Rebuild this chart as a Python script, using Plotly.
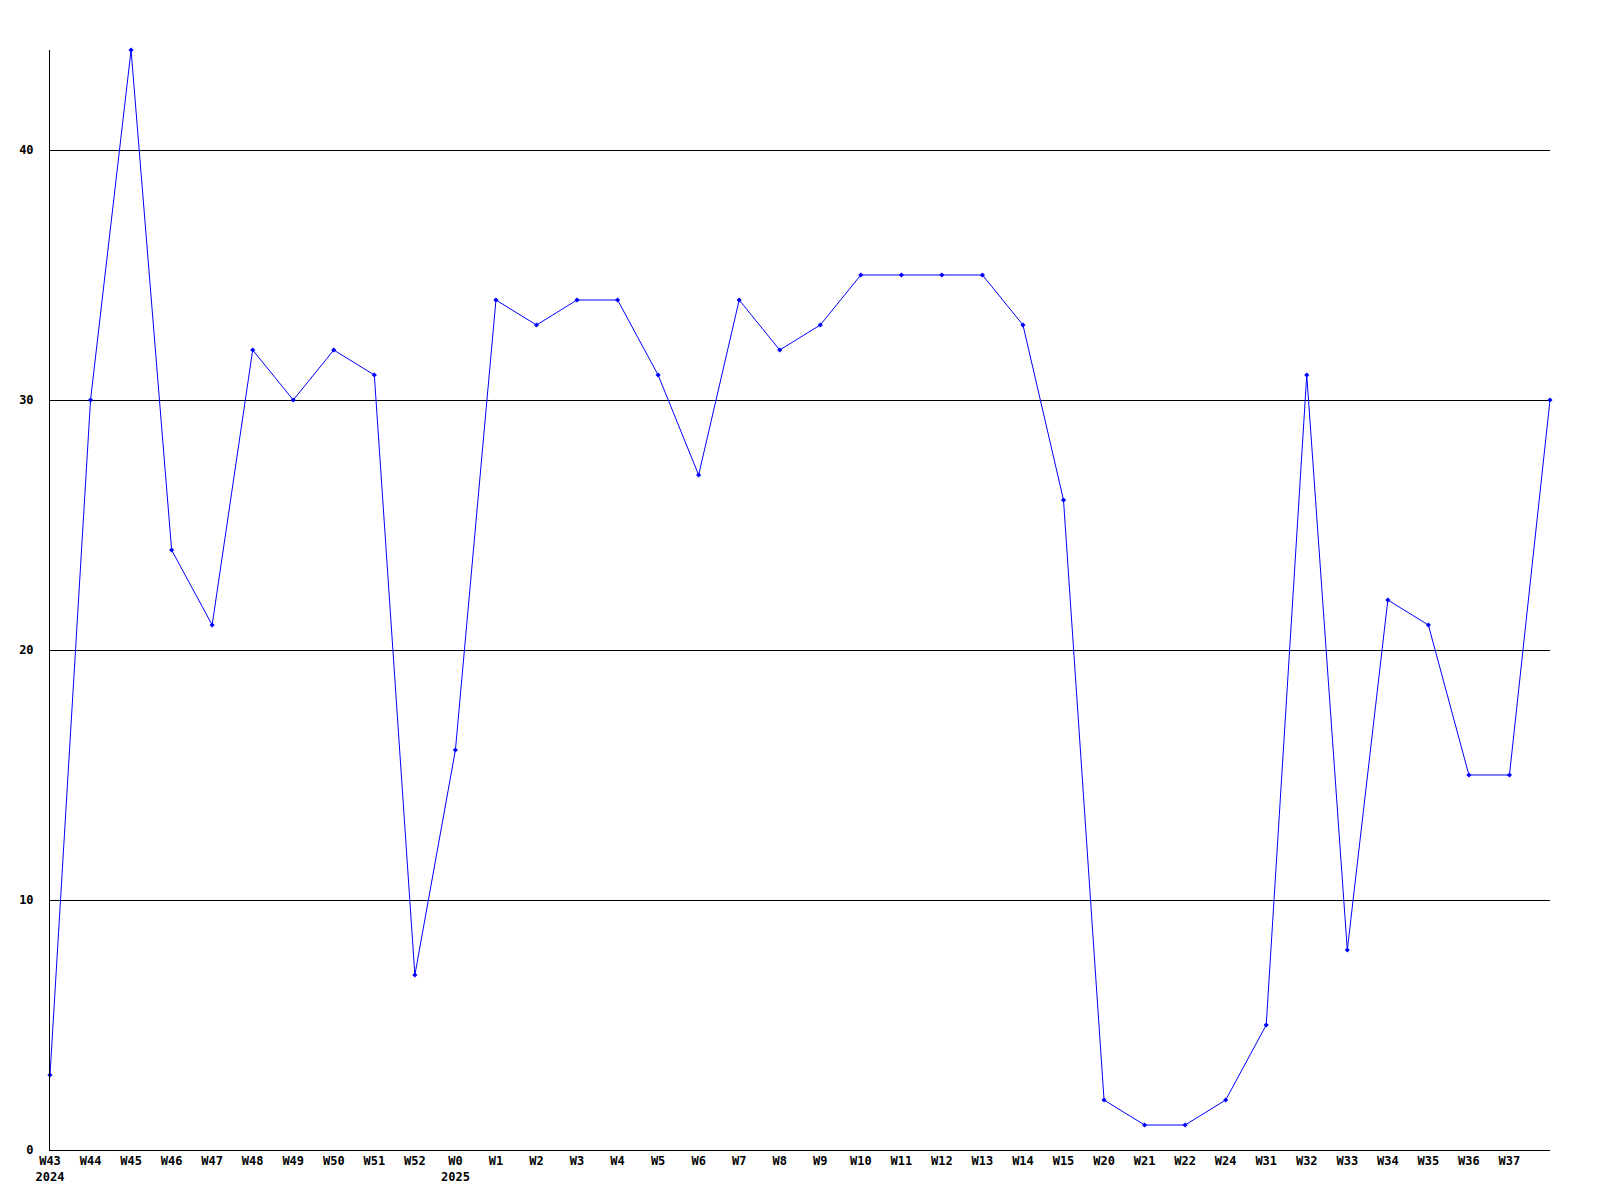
import plotly.graph_objects as go

weeks = ["W43", "W44", "W45", "W46", "W47", "W48", "W49", "W50", "W51", "W52",
         "W0", "W1", "W2", "W3", "W4", "W5", "W6", "W7", "W8", "W9", "W10",
         "W11", "W12", "W13", "W14", "W15", "W20", "W21", "W22", "W24", "W31",
         "W32", "W33", "W34", "W35", "W36", "W37", ""]
years = {"W43": "2024", "W0": "2025"}
values = [3, 30, 44, 24, 21, 32, 30, 32, 31, 7,
          16, 34, 33, 34, 34, 31, 27, 34, 32, 33, 35,
          35, 35, 35, 33, 26, 2, 1, 1, 2, 5,
          31, 8, 22, 21, 15, 15, 30]
y_ticks = [0, 10, 20, 30, 40]

xs = list(range(len(values)))
ticktext = [w + ("<br>" + years[w] if w in years else "") for w in weeks]

fig = go.Figure()
fig.add_trace(go.Scatter(
    x=xs, y=values, mode="lines+markers",
    line=dict(color="#0000ff", width=1),
    marker=dict(color="#0000ff", size=4, symbol="diamond"),
    cliponaxis=False,
))

font = dict(family="DejaVu Sans Mono", size=12, color="black", weight="bold")
fig.update_layout(
    width=1584, height=1184,
    margin=dict(l=42, r=42, t=42, b=42),
    paper_bgcolor="white", plot_bgcolor="white",
    showlegend=False,
    font=font,
)
fig.update_xaxes(
    range=[0, len(values) - 1],
    tickvals=xs[:-1], ticktext=ticktext[:-1],
    showgrid=False, zeroline=False,
    showline=True, linecolor="black", linewidth=1,
    ticks="", tickfont=font, tickangle=0, automargin=False,
)
fig.update_yaxes(
    range=[0, 44],
    tickvals=y_ticks,
    showgrid=True, gridcolor="black", gridwidth=1,
    zeroline=False,
    showline=True, linecolor="black", linewidth=1,
    ticks="", tickfont=font, ticklabelstandoff=13, automargin=False,
)

fig.write_html("out.html")
